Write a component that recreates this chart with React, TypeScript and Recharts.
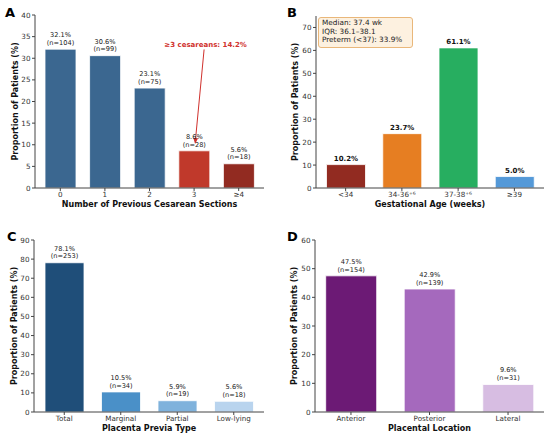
import React from 'react';
import { BarChart, Bar, XAxis, YAxis, Cell, LabelList, ReferenceLine } from 'recharts';

const FONT = '"DejaVu Sans", Verdana, sans-serif';

// A: previous cesarean sections
const cesareanCats = ['0', '1', '2', '3', '≥4'];
const cesareanPct = [32.1, 30.6, 23.1, 8.6, 5.6];
const cesareanN = [104, 99, 75, 28, 18];
const cesareanColors = ['#3b6790', '#3b6790', '#3b6790', '#c0392b', '#922b21'];
const cesareanTicks = [0, 5, 10, 15, 20, 25, 30, 35, 40];
const cesareanNote = '≥3 cesareans: 14.2%';

// B: gestational age
const gestCats = ['<34', '34-36⁺⁶', '37-38⁺⁶', '≥39'];
const gestPct = [10.2, 23.7, 61.1, 5.0];
const gestColors = ['#922b21', '#e67e22', '#27ae60', '#5499d8'];
const gestTicks = [0, 10, 20, 30, 40, 50, 60, 70];
const gestStats = ['Median: 37.4 wk', 'IQR: 36.1–38.1', 'Preterm (<37): 33.9%'];

// C: placenta previa type
const previaCats = ['Total', 'Marginal', 'Partial', 'Low-lying'];
const previaPct = [78.1, 10.5, 5.9, 5.6];
const previaN = [253, 34, 19, 18];
const previaColors = ['#1f4e79', '#4a90c8', '#7fb2dc', '#b9d4ee'];
const previaTicks = [0, 10, 20, 30, 40, 50, 60, 70, 80, 90];

// D: placental location
const locationCats = ['Anterior', 'Posterior', 'Lateral'];
const locationPct = [47.5, 42.9, 9.6];
const locationN = [154, 139, 31];
const locationColors = ['#6c1a75', '#a569bd', '#d7bde2'];
const locationTicks = [0, 10, 20, 30, 40, 50, 60];

const makeRows = (cats: string[], pct: number[], n?: number[]) =>
  cats.map((cat, i) => ({
    cat,
    pct: pct[i],
    pctText: `${pct[i].toFixed(1)}%`,
    nText: n ? `(n=${n[i]})` : '',
  }));

const axisColor = '#444';
const tickStyle = { fontSize: 7.2, fill: '#333', fontFamily: FONT };
const axisTitle = { fontSize: 8, fontWeight: 'bold', fill: '#111', fontFamily: FONT } as const;

// arrow + red text for panel A
const ArrowNote = (props: any) => {
  const { x1, y1, x2, y2 } = props;
  const sx = x1 + 10;
  const sy = y1 + 2;
  const ex = x2 + 1;
  const ey = y2;
  const a = Math.atan2(ey - sy, ex - sx);
  const len = 6;
  const w = 2.4;
  const bx = ex - len * Math.cos(a);
  const by = ey - len * Math.sin(a);
  const pts = `${ex},${ey} ${bx - w * Math.sin(a)},${by + w * Math.cos(a)} ${bx + w * Math.sin(a)},${by - w * Math.cos(a)}`;
  return (
    <g>
      <line x1={sx} y1={sy} x2={bx} y2={by} stroke="#d0312d" strokeWidth={1} />
      <polygon points={pts} fill="#d0312d" />
      <text x={x1 + 11.5} y={y1} textAnchor="middle" fontSize={7} fontWeight="bold" fill="#d0312d" fontFamily={FONT}>
        {cesareanNote}
      </text>
    </g>
  );
};

type PanelProps = {
  left: number;
  top: number;
  rows: ReturnType<typeof makeRows>;
  colors: string[];
  yMax: number;
  ticks: number[];
  xLabel: string;
  yAxisWidth: number;
  marginTop: number;
  marginRight: number;
  xAxisHeight: number;
  pad: number;
  barSize: number;
  yLabelX: number;
  bold?: boolean;
  children?: React.ReactNode;
};

const Panel = (p: PanelProps) => (
  <div style={{ position: 'absolute', left: p.left, top: p.top }}>
    <BarChart
      width={275}
      height={219}
      data={p.rows}
      margin={{ top: p.marginTop, right: p.marginRight, left: 0, bottom: 0 }}
    >
      <XAxis
        dataKey="cat"
        interval={0}
        height={p.xAxisHeight}
        padding={{ left: p.pad, right: p.pad }}
        tick={tickStyle}
        tickSize={3}
        tickMargin={1}
        axisLine={{ stroke: axisColor }}
        tickLine={{ stroke: axisColor }}
        label={{ value: p.xLabel, position: 'insideBottom', offset: p.xAxisHeight - 19.4, style: axisTitle }}
      />
      <YAxis
        width={p.yAxisWidth}
        domain={[0, p.yMax]}
        ticks={p.ticks}
        allowDataOverflow
        tick={tickStyle}
        tickSize={3}
        tickMargin={1.5}
        axisLine={{ stroke: axisColor }}
        tickLine={{ stroke: axisColor }}
        label={{
          value: 'Proportion of Patients (%)',
          angle: -90,
          position: 'insideLeft',
          offset: p.yLabelX,
          style: { ...axisTitle, textAnchor: 'middle' },
        }}
      />
      <Bar dataKey="pct" barSize={p.barSize} stroke="#ffffff" strokeWidth={0.8} isAnimationActive={false}>
        {p.rows.map((r, i) => (
          <Cell key={r.cat} fill={p.colors[i]} />
        ))}
        {p.bold ? (
          <LabelList dataKey="pctText" position="top" offset={4} fill="#111" fontSize={7} fontWeight="bold" fontFamily={FONT} />
        ) : null}
        {!p.bold ? (
          <LabelList dataKey="pctText" position="top" offset={12} fill="#222" fontSize={6.6} fontFamily={FONT} />
        ) : null}
        {!p.bold ? (
          <LabelList dataKey="nText" position="top" offset={4.3} fill="#222" fontSize={6.6} fontFamily={FONT} />
        ) : null}
      </Bar>
      {p.children}
    </BarChart>
  </div>
);

const letterStyle = (left: number, top: number): React.CSSProperties => ({
  position: 'absolute',
  left,
  top,
  fontSize: 13,
  fontWeight: 'bold',
  lineHeight: '13px',
  color: '#000',
});

export default function App() {
  return (
    <div
      style={{
        position: 'absolute',
        left: 0,
        top: 0,
        width: 550,
        height: 438,
        background: '#fff',
        fontFamily: FONT,
      }}
    >
      <Panel
        left={0}
        top={0}
        rows={makeRows(cesareanCats, cesareanPct, cesareanN)}
        colors={cesareanColors}
        yMax={40}
        ticks={cesareanTicks}
        xLabel="Number of Previous Cesarean Sections"
        yAxisWidth={35}
        marginTop={15}
        marginRight={11}
        xAxisHeight={31}
        pad={3}
        barSize={31}
        yLabelX={15}
      >
        <ReferenceLine
          segment={[
            { x: '3', y: 32.5 },
            { x: '3', y: 10.2 },
          ]}
          shape={ArrowNote}
        />
      </Panel>
      <Panel
        left={275}
        top={0}
        rows={makeRows(gestCats, gestPct)}
        colors={gestColors}
        yMax={75}
        ticks={gestTicks}
        xLabel="Gestational Age (weeks)"
        yAxisWidth={41}
        marginTop={16}
        marginRight={6}
        xAxisHeight={31}
        pad={1.5}
        barSize={39}
        yLabelX={20}
        bold
      />
      <Panel
        left={0}
        top={219}
        rows={makeRows(previaCats, previaPct, previaN)}
        colors={previaColors}
        yMax={90}
        ticks={previaTicks}
        xLabel="Placenta Previa Type"
        yAxisWidth={34}
        marginTop={21}
        marginRight={11}
        xAxisHeight={26}
        pad={2}
        barSize={39}
        yLabelX={14}
      />
      <Panel
        left={275}
        top={219}
        rows={makeRows(locationCats, locationPct, locationN)}
        colors={locationColors}
        yMax={60}
        ticks={locationTicks}
        xLabel="Placental Location"
        yAxisWidth={40}
        marginTop={21}
        marginRight={6}
        xAxisHeight={26}
        pad={-3.3}
        barSize={51}
        yLabelX={19}
      />
      <div
        style={{
          position: 'absolute',
          left: 318,
          top: 17,
          width: 90,
          height: 28,
          padding: '1px 0 0 3px',
          background: '#fdf1e0',
          border: '1px solid #e9b77a',
          borderRadius: 3,
          fontSize: 7.3,
          lineHeight: '8.6px',
          color: '#222',
          whiteSpace: 'nowrap',
        }}
      >
        {gestStats.map((s) => (
          <div key={s}>{s}</div>
        ))}
      </div>
      <span style={letterStyle(5, 5.5)}>A</span>
      <span style={letterStyle(287, 5.5)}>B</span>
      <span style={letterStyle(7, 229.5)}>C</span>
      <span style={letterStyle(287, 229.5)}>D</span>
    </div>
  );
}
